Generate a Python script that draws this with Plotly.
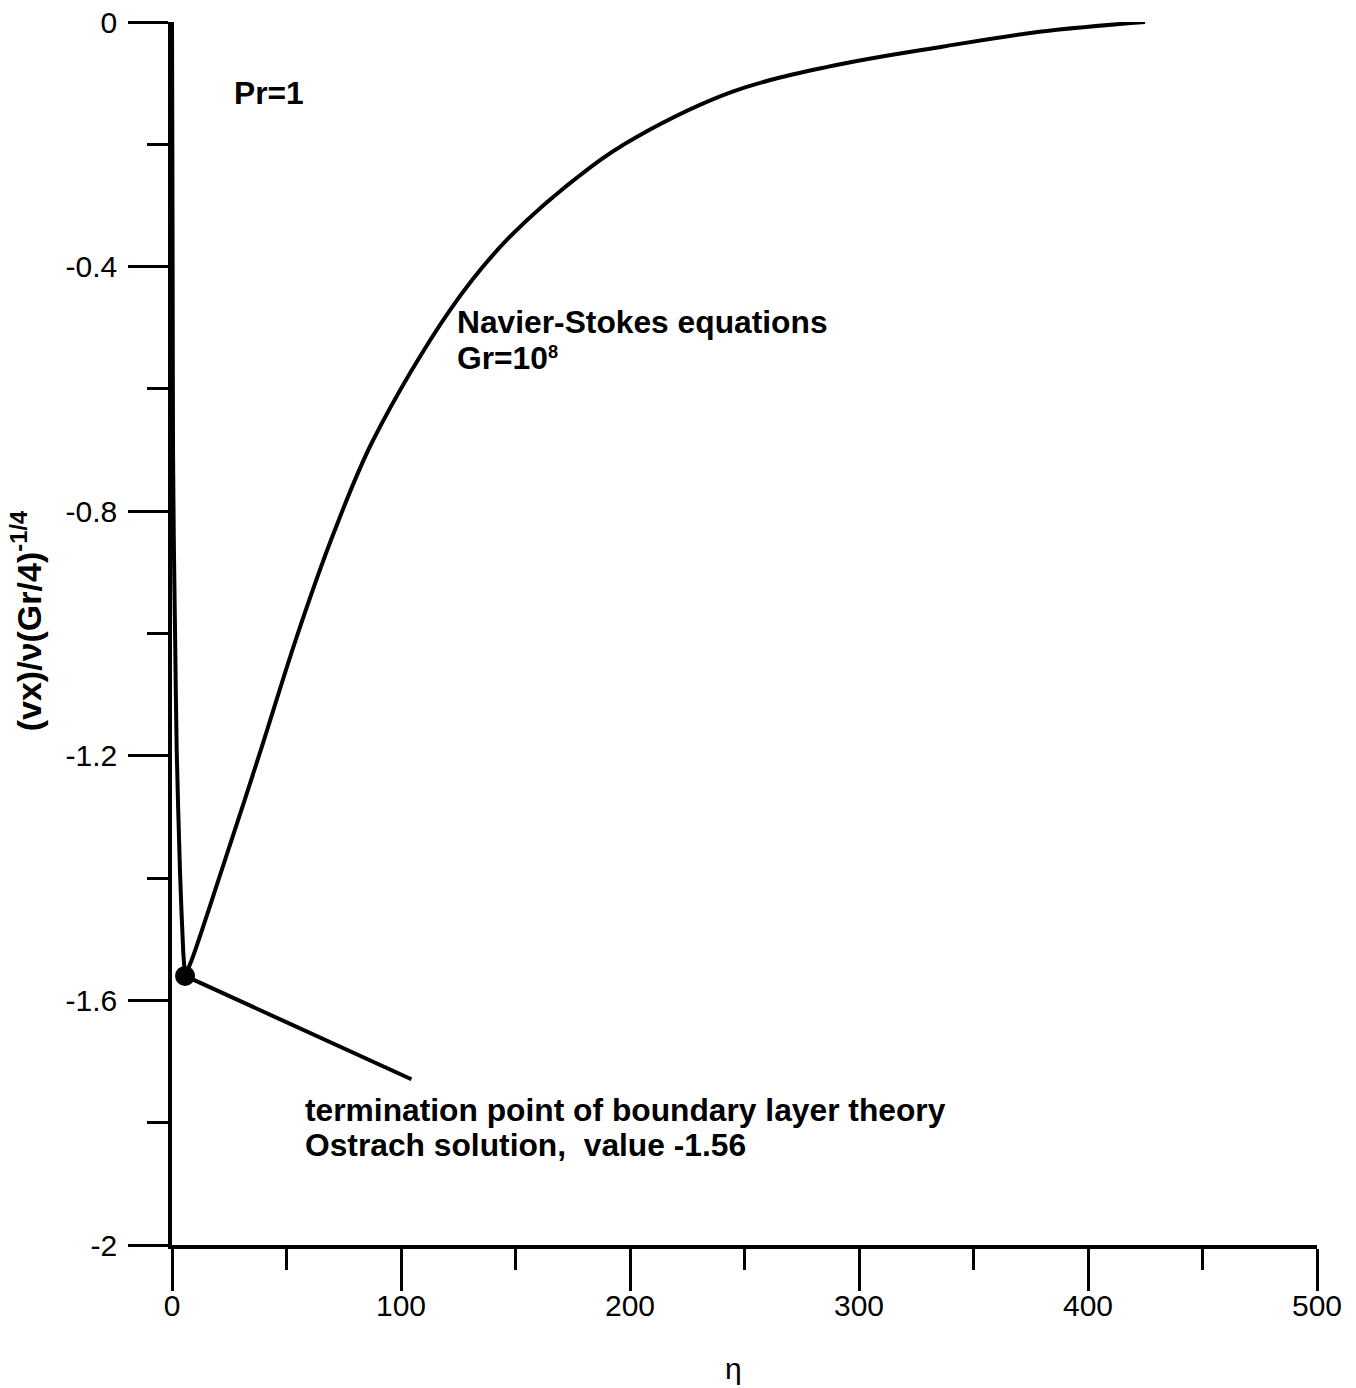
import plotly.graph_objects as go

# Velocity profile (Navier-Stokes, Gr=1e8, Pr=1)
eta = [0, 0.15, 0.3, 0.45, 0.8, 1.3, 2.05, 3.5, 4.9, 5.7,
       8.6, 21.7, 38.4, 54.5, 70.7, 87.8, 121.4, 146.3, 182.5,
       202.9, 244.8, 286.7, 336.9, 378.8, 424.9]
vel = [0, -0.2, -0.45, -0.7, -0.85, -0.99, -1.19, -1.39, -1.52, -1.56,
       -1.534, -1.387, -1.195, -1.005, -0.835, -0.684, -0.471, -0.356, -0.238,
       -0.188, -0.114, -0.073, -0.040, -0.016, 0]

# Ostrach boundary-layer termination point
term_eta = [5.7]
term_val = [-1.56]

x_ticks = [0, 100, 200, 300, 400, 500]
x_labels = ["0", "100", "200", "300", "400", "500"]
y_ticks = [0, -0.4, -0.8, -1.2, -1.6, -2]
y_labels = ["0", "-0.4", "-0.8", "-1.2", "-1.6", "-2"]

FONT = "Arial, Liberation Sans, sans-serif"

imin = vel.index(min(vel))

fig = go.Figure()
# wall branch and outer branch, each smoothed separately
fig.add_trace(go.Scatter(x=eta[:imin + 1], y=vel[:imin + 1], mode="lines",
                         line=dict(color="black", width=4, shape="spline", smoothing=0.6),
                         showlegend=False))
fig.add_trace(go.Scatter(x=eta[imin:], y=vel[imin:], mode="lines",
                         line=dict(color="black", width=4, shape="spline", smoothing=1.0),
                         showlegend=False))
fig.add_trace(go.Scatter(x=term_eta, y=term_val, mode="markers",
                         marker=dict(color="black", size=20), showlegend=False,
                         cliponaxis=False))

ann = []
# pointer line from label to termination point
ann.append(dict(x=term_eta[0], y=term_val[0], xref="x", yref="y",
                ax=105.2, ay=-1.73, axref="x", ayref="y",
                text="", showarrow=True, arrowhead=0, arrowwidth=4,
                arrowcolor="black", standoff=0, startstandoff=0))

def txt(x, y, s, size=31.75, bold=True, **kw):
    d = dict(x=x, y=y, xref="x", yref="y", text=("<b>%s</b>" % s) if bold else s,
             showarrow=False, xanchor="left", yanchor="middle",
             font=dict(family=FONT, size=size, color="black"))
    d.update(kw)
    return d

ann.append(txt(26.2, -0.116, "Pr=1"))
ann.append(txt(123.6, -0.491, "Navier-Stokes equations"))
ann.append(txt(123.6, -0.550, "Gr=10<span style='font-size:26px'><sup>8</sup></span>"))
ann.append(txt(57.2, -1.779, "termination point of boundary layer theory"))
ann.append(txt(57.2, -1.836, "Ostrach solution,  value -1.56"))

# axis titles
ann.append(dict(x=0.49, y=0, xref="paper", yref="paper", yshift=-123,
                text="η", showarrow=False, xanchor="center", yanchor="middle",
                font=dict(family=FONT, size=30, color="black")))
ann.append(dict(x=0, y=0.51, xref="paper", yref="paper", xshift=-146,
                text="<b>(vx)/ν(Gr/4)<sup>-1/4</sup></b>", textangle=-90,
                showarrow=False, xanchor="center", yanchor="middle",
                font=dict(family=FONT, size=34, color="black")))

fig.update_layout(
    width=1356, height=1388,
    margin=dict(l=172, r=39, t=22, b=143, autoexpand=False),
    paper_bgcolor="white", plot_bgcolor="white",
    font=dict(family=FONT, color="black"),
    annotations=ann,
    xaxis=dict(range=[0, 500], showgrid=False, zeroline=False,
               showline=True, linecolor="black", linewidth=3.5,
               ticks="outside", ticklen=42, tickwidth=3, tickcolor="black",
               tickvals=x_ticks, ticktext=x_labels, ticklabelstandoff=-11,
               tickfont=dict(family=FONT, size=30, color="black"),
               minor=dict(ticks="outside", ticklen=21, tickwidth=3,
                          tickcolor="black", dtick=50, showgrid=False)),
    yaxis=dict(range=[-2, 0], showgrid=False, zeroline=False,
               showline=True, linecolor="black", linewidth=3.5,
               ticks="outside", ticklen=40, tickwidth=3, tickcolor="black",
               tickvals=y_ticks, ticktext=y_labels, ticklabelstandoff=5,
               tickfont=dict(family=FONT, size=30, color="black"),
               minor=dict(ticks="outside", ticklen=21, tickwidth=3,
                          tickcolor="black", dtick=0.2, showgrid=False)),
)

fig.write_html("out.html", config={"displayModeBar": False},
               post_script="document.body.style.margin='0';document.body.style.overflow='hidden';")
